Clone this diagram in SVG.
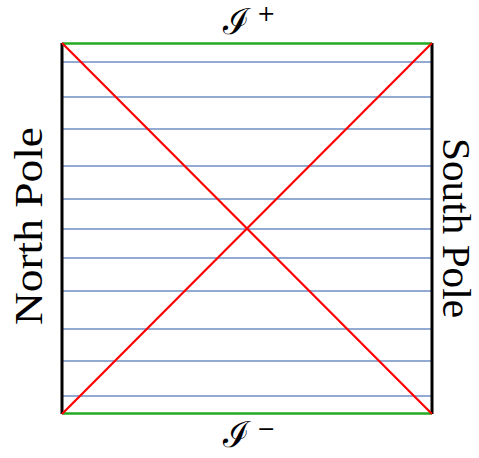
<svg xmlns="http://www.w3.org/2000/svg" width="479" height="458" viewBox="0 0 479 458">
<style>
.blue{stroke:#6f8fc4;stroke-width:1.3;fill:none}
.pole{stroke:#000;stroke-width:3;fill:none}
.scri{stroke:#22aa22;stroke-width:2.6;fill:none}
.hor{stroke:#ff0000;stroke-width:2.2;fill:none}
.lbl{font-family:"Liberation Serif","DejaVu Serif",serif;font-size:40px;fill:#000}
.scr{font-family:"DejaVu Serif","Liberation Serif",serif;fill:#000}
</style>
<rect width="479" height="458" fill="#fff"/>
<g id="slices">
<line class="blue" x1="62" y1="62" x2="432" y2="62"/>
<line class="blue" x1="62" y1="97" x2="432" y2="97"/>
<line class="blue" x1="62" y1="129" x2="432" y2="129"/>
<line class="blue" x1="62" y1="166" x2="432" y2="166"/>
<line class="blue" x1="62" y1="199" x2="432" y2="199"/>
<line class="blue" x1="62" y1="229" x2="432" y2="229"/>
<line class="blue" x1="62" y1="258" x2="432" y2="258"/>
<line class="blue" x1="62" y1="291" x2="432" y2="291"/>
<line class="blue" x1="62" y1="329" x2="432" y2="329"/>
<line class="blue" x1="62" y1="361" x2="432" y2="361"/>
<line class="blue" x1="62" y1="396" x2="432" y2="396"/>
</g>
<g id="north-pole">
<line class="pole" x1="62" y1="43" x2="62" y2="414"/>
<text class="lbl" transform="translate(42,226) rotate(-90)" text-anchor="middle" textLength="198" lengthAdjust="spacingAndGlyphs">North Pole</text>
</g>
<g id="south-pole">
<line class="pole" x1="432" y1="43" x2="432" y2="414"/>
<text class="lbl" transform="translate(443,228) rotate(90)" text-anchor="middle" font-size="36" textLength="180" lengthAdjust="spacingAndGlyphs">South Pole</text>
</g>
<g id="scri-plus">
<line class="scri" x1="62" y1="43.5" x2="432" y2="43.5"/>
<text class="scr" x="223" y="34" font-size="36">ℐ</text>
<text class="scr" x="257" y="21" font-size="22">+</text>
</g>
<g id="scri-minus">
<line class="scri" x1="62" y1="413.5" x2="432" y2="413.5"/>
<text class="scr" x="223" y="447" font-size="36">ℐ</text>
<text class="scr" x="257" y="436" font-size="22">−</text>
</g>
<g id="connectors">
<line class="hor" x1="62" y1="43" x2="432" y2="414"/>
<line class="hor" x1="432" y1="43" x2="62" y2="414"/>
</g>
</svg>
